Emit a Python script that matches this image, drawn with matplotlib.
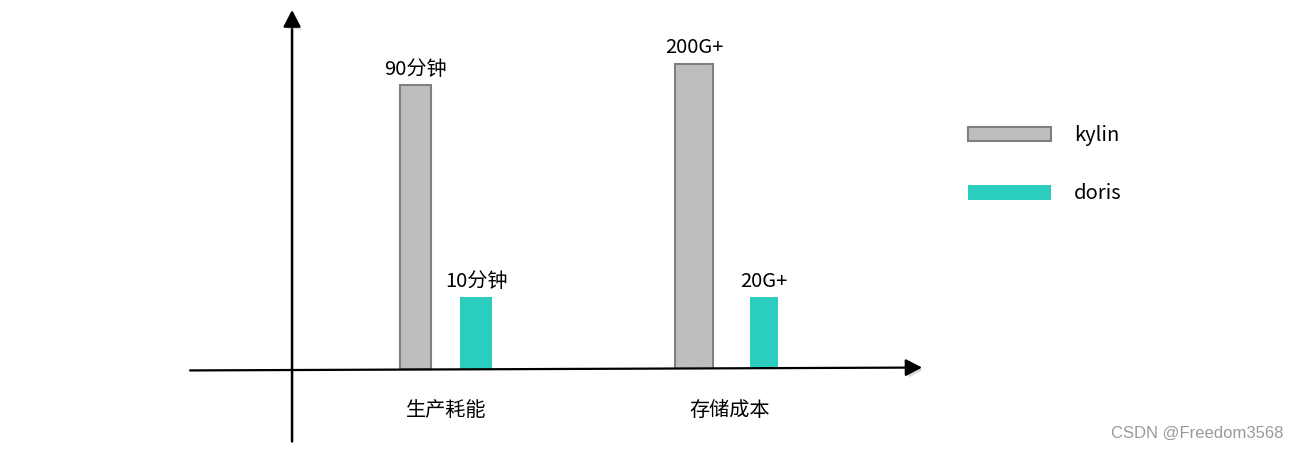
import numpy as np
import matplotlib
matplotlib.use("Agg")
import matplotlib.pyplot as plt
import matplotlib.patheffects as pe

plt.rcParams['font.family'] = ['Noto Sans CJK SC', 'DejaVu Sans']

# data (heights on the drawing's own scale, 0..100)
categories = ["生产耗能", "存储成本"]
series_names = ["kylin", "doris"]
kylin_height = [79, 85]
doris_height = [20, 20]
kylin_labels = ["90分钟", "200G+"]
doris_labels = ["10分钟", "20G+"]

KYLIN_FILL = "#bebebe"
KYLIN_EDGE = "#808080"
DORIS_FILL = "#2bcdbf"
FS = 14.5

fig = plt.figure(figsize=(12.98, 4.49), dpi=100)
ax = fig.add_axes([0.2250, 0.1782, 0.4854, 0.7996])
ax.set_xlim(-0.543, 1.681)
ax.set_ylim(0, 100)
for s in ax.spines.values():
    s.set_visible(False)
ax.tick_params(axis='y', left=False, labelleft=False)
ax.tick_params(axis='x', length=0, pad=22, labelsize=FS)

# the drawing is hand made, so bars are not evenly placed
x = np.arange(len(categories))
kylin_off = np.array([-0.107, -0.124])
doris_off = np.array([0.107, 0.124])
kylin_w = [0.109, 0.134]
doris_w = [0.113, 0.099]
b1 = ax.bar(x + kylin_off, kylin_height, width=kylin_w, color=KYLIN_FILL,
            edgecolor=KYLIN_EDGE, linewidth=1.5, label=series_names[0])
b2 = ax.bar(x + doris_off, doris_height, width=doris_w, color=DORIS_FILL,
            linewidth=0, label=series_names[1])
ax.bar_label(b1, labels=kylin_labels, padding=4, fontsize=FS)
ax.bar_label(b2, labels=doris_labels, padding=4, fontsize=FS)
ax.set_xticks(x, categories)

# hand drawn style arrows for the axes
x0, x1 = ax.get_xlim()
y0, y1 = ax.get_ylim()
shadow = [pe.SimplePatchShadow(offset=(2, -2), shadow_rgbFace='#999999', alpha=0.35),
          pe.Normal()]
ax.annotate("", xy=(x0, y1), xytext=(x0, y0 - 20.2),
            arrowprops=dict(arrowstyle="-|>,head_length=0.5,head_width=0.26",
                            mutation_scale=20, color='black', lw=1.8,
                            shrinkA=0, shrinkB=0, path_effects=shadow),
            annotation_clip=False)
ax.annotate("", xy=(x1, 0.4), xytext=(x0 - 0.36, -0.4),
            arrowprops=dict(arrowstyle="-|>,head_length=0.5,head_width=0.26",
                            mutation_scale=20, color='black', lw=1.6,
                            shrinkA=0, shrinkB=0, path_effects=shadow),
            annotation_clip=False)

ax.legend([b1, b2], series_names, loc='upper left',
          bbox_to_anchor=(968 / 1298, 1 - 125 / 449), bbox_transform=fig.transFigure,
          frameon=False, handlelength=4.1, handleheight=0.75, labelspacing=1.85,
          handletextpad=1.15, borderpad=0, borderaxespad=0, fontsize=FS)

fig.text(0.9884, 0.0356, "CSDN @Freedom3568", ha='right', va='center',
         fontsize=12, color='#9a9a9a', family=['Liberation Sans', 'DejaVu Sans'])

fig.savefig("out.png", dpi=100)
